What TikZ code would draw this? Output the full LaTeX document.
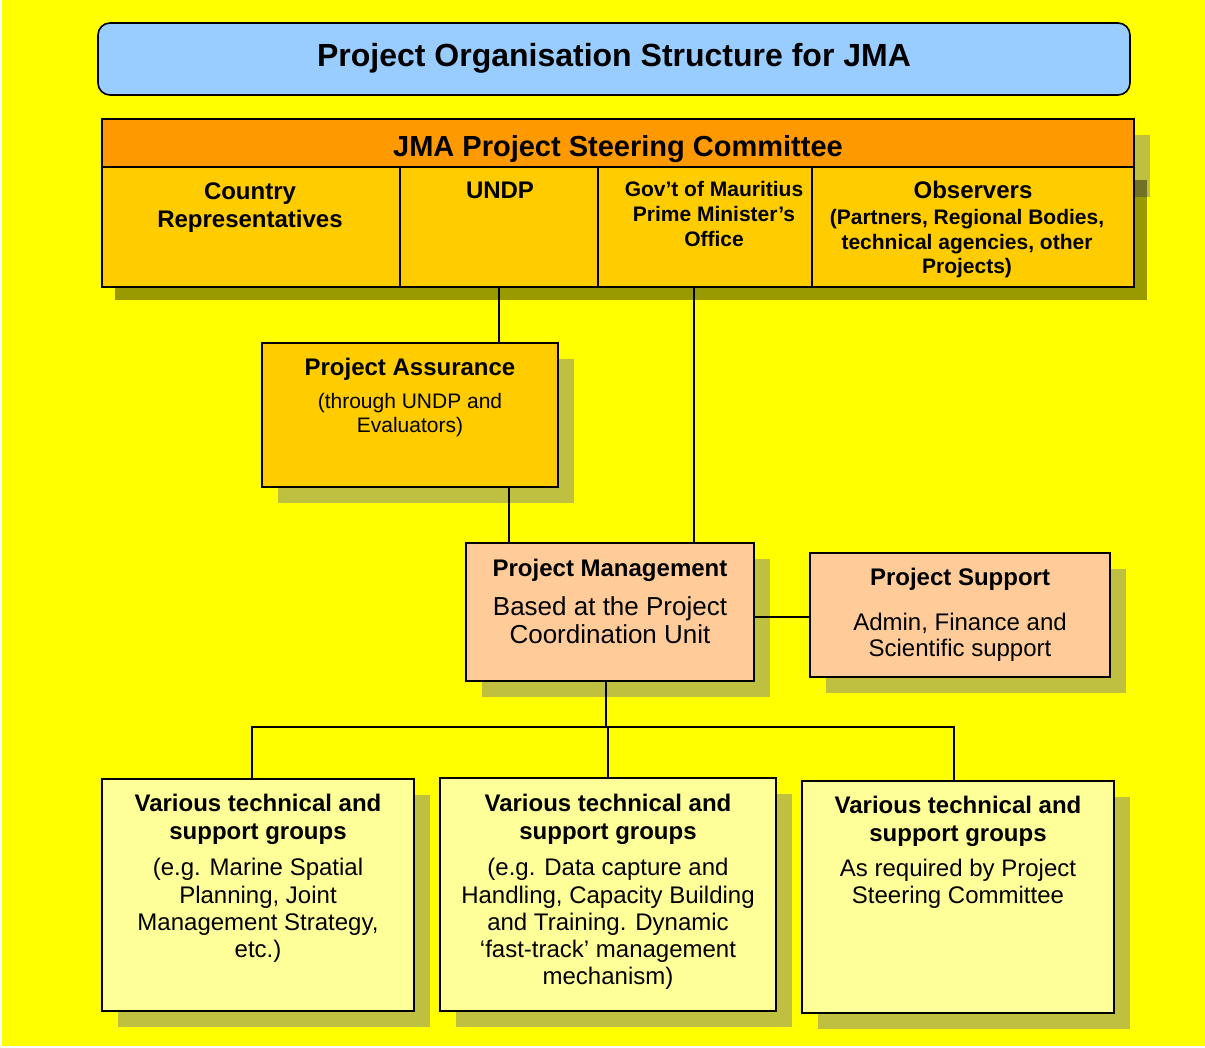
\documentclass[tikz,border=0pt]{standalone}
\usepackage{fontspec}
\setmainfont{Liberation Sans}
\usetikzlibrary{shadows}
\newcommand\mlines[1]{\begin{tabular}[t]{@{}c@{}}#1\end{tabular}}
\definecolor{bgyellow}{HTML}{FFFF00}
\definecolor{titleblue}{HTML}{99CCFF}
\definecolor{headorange}{HTML}{FF9900}
\definecolor{cellgold}{HTML}{FFCC00}
\definecolor{peach}{HTML}{FFCC99}
\definecolor{paleyellow}{HTML}{FFFF99}
\begin{document}
\begin{tikzpicture}[x=1pt,y=-1pt,
  box/.style={draw=black, line width=1.6pt, inner sep=0pt, outer sep=0pt},
  shad/.style={drop shadow={shadow xshift=16pt, shadow yshift=-16pt}},
  cellshad/.style={drop shadow={shadow xshift=13pt, shadow yshift=-13pt, fill=black, opacity=.4}},
  txt/.style={anchor=base, inner sep=0pt},
  conn/.style={line width=1.6pt}]
\useasboundingbox (0,0) rectangle (1205,1048);
\fill[white] (0,0) rectangle (1205,1048);
\fill[bgyellow] (2,0) rectangle (1205,1046);

% title
\node[box, fill=titleblue, rounded corners=12pt, minimum width=1032pt, minimum height=72pt] (title) at (614,59) {};
\node[txt, font=\fontsize{32}{38}\selectfont\bfseries] (titletext) at (614,67) {Project Organisation Structure for JMA};

% steering committee
\fill[black!50, opacity=.5] (118,135) rectangle (1150,197);
\node[box, fill=headorange, minimum width=1032pt, minimum height=48pt] (psc) at (618,143) {};
\node[txt, font=\fontsize{29}{34}\selectfont\bfseries] (psctext) at (618,157) {JMA Project Steering Committee};

\node[box, cellshad, fill=cellgold, minimum width=298pt, minimum height=120pt] (country) at (251,227) {};
\node[box, cellshad, fill=cellgold, minimum width=198pt, minimum height=120pt] (undp) at (499,227) {};
\node[box, cellshad, fill=cellgold, minimum width=214pt, minimum height=120pt] (gov) at (705,227) {};
\node[box, cellshad, fill=cellgold, minimum width=322pt, minimum height=120pt] (obs) at (973,227) {};

\node[txt, font=\fontsize{24}{28}\selectfont\bfseries] (countrytext) at (250,200) {\mlines{Country\\Representatives}};
\node[txt, font=\fontsize{24}{28}\selectfont\bfseries] (undptext) at (500,199) {UNDP};
\node[txt, font=\fontsize{21}{24.7}\selectfont\bfseries] (govtext) at (714,197) {\mlines{Gov’t of Mauritius\\Prime Minister’s\\Office}};
\node[txt, font=\fontsize{24}{28}\selectfont\bfseries] (obstitle) at (973,199) {Observers};
\node[txt, font=\fontsize{21}{24.5}\selectfont\bfseries] (obstext) at (967,225) {\mlines{(Partners, Regional Bodies,\\technical agencies, other\\Projects)}};

% project assurance
\node[box, shad, fill=cellgold, minimum width=296pt, minimum height=144pt] (pa) at (410,415) {};
\node[txt, font=\fontsize{24}{28}\selectfont\bfseries] (patitle) at (410,376) {Project Assurance};
\node[txt, font=\fontsize{21}{24}\selectfont] (patext) at (410,409) {\mlines{(through UNDP and\\Evaluators)}};

% project management
\node[box, shad, fill=peach, minimum width=288pt, minimum height=138pt] (pm) at (610,612) {};
\node[txt, font=\fontsize{24}{28}\selectfont\bfseries] (pmtitle) at (610,576) {Project Management};
\node[txt, font=\fontsize{26}{28.5}\selectfont] (pmtext) at (610,615) {\mlines{Based at the Project\\Coordination Unit}};

% project support
\node[box, shad, fill=peach, minimum width=300pt, minimum height=124pt] (ps) at (960,615) {};
\node[txt, font=\fontsize{24}{28}\selectfont\bfseries] (pstitle) at (960,585) {Project Support};
\node[txt, font=\fontsize{24}{26.8}\selectfont] (pstext) at (960,630) {\mlines{Admin, Finance and\\Scientific support}};

% groups
\node[box, shad, fill=paleyellow, minimum width=312pt, minimum height=232pt] (g1) at (258,895) {};
\node[box, shad, fill=paleyellow, minimum width=336pt, minimum height=233pt] (g2) at (608,894.5) {};
\node[box, shad, fill=paleyellow, minimum width=312pt, minimum height=232pt] (g3) at (958,897) {};

\node[txt, font=\fontsize{24}{27.5}\selectfont\bfseries] (g1title) at (258,811.7) {\mlines{Various technical and\\support groups}};
\node[txt, font=\fontsize{24}{27.3}\selectfont] (g1text) at (258,875.7) {\mlines{(e.g. Marine Spatial\\Planning, Joint\\Management Strategy,\\etc.)}};
\node[txt, font=\fontsize{24}{27.5}\selectfont\bfseries] (g2title) at (608,811.7) {\mlines{Various technical and\\support groups}};
\node[txt, font=\fontsize{24}{27.3}\selectfont] (g2text) at (608,875.7) {\mlines{(e.g. Data capture and\\Handling, Capacity Building\\and Training. Dynamic\\‘fast-track’ management\\mechanism)}};
\node[txt, font=\fontsize{24}{28.4}\selectfont\bfseries] (g3title) at (958,813.3) {\mlines{Various technical and\\support groups}};
\node[txt, font=\fontsize{24}{26.7}\selectfont] (g3text) at (958,876.7) {\mlines{As required by Project\\Steering Committee}};

% connectors
\draw[conn] (undp.south) -- (undp.south |- pa.north);
\draw[conn] ([xshift=-11pt]gov.south) -- ([xshift=-11pt]gov.south |- pm.north);
\draw[conn] ([xshift=99pt]pa.south) -- ([xshift=99pt]pa.south |- pm.north);
\draw[conn] (pm.east |- 0,617) -- (ps.west |- 0,617);
\coordinate (bus) at (606,727);
\draw[conn] (pm.south -| bus) -- (bus);
\draw[conn] (bus) -- (bus -| g2.north) -- (g2.north);
\draw[conn] ([xshift=-6pt]g1.north) -- ([xshift=-6pt]g1.north |- bus) -- ([xshift=-4pt]g3.north |- bus) -- ([xshift=-4pt]g3.north);
\end{tikzpicture}
\end{document}
